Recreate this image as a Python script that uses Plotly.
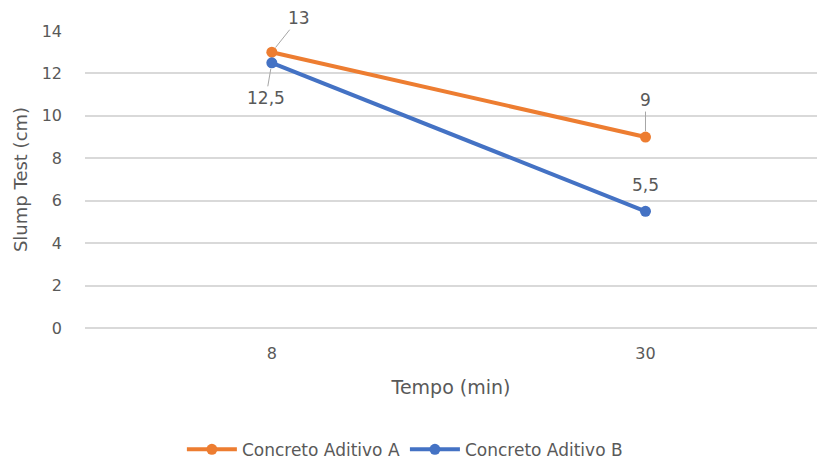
import plotly.graph_objects as go

tempos = ["8", "30"]
aditivo_a = [13, 9]
aditivo_b = [12.5, 5.5]
labels_a = ["13", "9"]
labels_b = ["12,5", "5,5"]
y_ticks = [0, 2, 4, 6, 8, 10, 12, 14]

ORANGE = "#ED7D31"
BLUE = "#4472C4"
TXT = "#595959"
FONT = "DejaVu Sans"

xpos = list(range(len(tempos)))

fig = go.Figure()
fig.add_trace(go.Scatter(x=xpos, y=aditivo_a, mode="lines+markers", name="Concreto Aditivo A",
                         line=dict(color=ORANGE, width=4), marker=dict(color=ORANGE, size=11)))
fig.add_trace(go.Scatter(x=xpos, y=aditivo_b, mode="lines+markers", name="Concreto Aditivo B",
                         line=dict(color=BLUE, width=4), marker=dict(color=BLUE, size=11)))

# data labels with leader lines
offsets_a = [(27, -34, True), (0, -37, True)]
offsets_b = [(-6, 35, True), (0, -26, False)]
for ys, labs, offs in [(aditivo_a, labels_a, offsets_a), (aditivo_b, labels_b, offsets_b)]:
    for x, y, lab, (ax, ay, arrow) in zip(xpos, ys, labs, offs):
        if arrow:
            fig.add_annotation(x=x, y=y, xref="x", yref="y", text=lab, showarrow=True, ax=ax, ay=ay,
                               arrowhead=0, arrowwidth=1, arrowcolor="#A6A6A6", standoff=6,
                               font=dict(family=FONT, size=17, color=TXT))
        else:
            fig.add_annotation(x=x, y=y, xref="x", yref="y", text=lab, showarrow=False, yshift=-ay,
                               font=dict(family=FONT, size=17, color=TXT))

fig.update_layout(
    width=817, height=459,
    margin=dict(l=85, r=0, t=31, b=131, autoexpand=False),
    paper_bgcolor="white", plot_bgcolor="white",
    font=dict(family=FONT, size=16, color=TXT),
    showlegend=True,
    legend=dict(orientation="h", x=0.437, xanchor="center", yref="paper", y=-0.41, yanchor="middle",
                font=dict(family=FONT, size=17, color=TXT), itemwidth=50, tracegroupgap=0),
    xaxis=dict(range=[-0.5, 1.459], tickvals=xpos, ticktext=tempos, showgrid=False, showline=False,
               zeroline=False, ticks="", ticklabelstandoff=14, tickfont=dict(size=16, color=TXT),
               title=dict(text="Tempo (min)", font=dict(size=19, color=TXT), standoff=18)),
    yaxis=dict(range=[0, 14], tickvals=y_ticks, showgrid=True, gridcolor="#D9D9D9", gridwidth=1.5,
               zeroline=True, zerolinecolor="#D9D9D9", zerolinewidth=1.5, showline=False,
               ticks="", ticklabelstandoff=22, tickfont=dict(size=16, color=TXT),
               title=dict(text="Slump Test (cm)", font=dict(size=18, color=TXT), standoff=9)),
)

fig.write_html("out.html")
